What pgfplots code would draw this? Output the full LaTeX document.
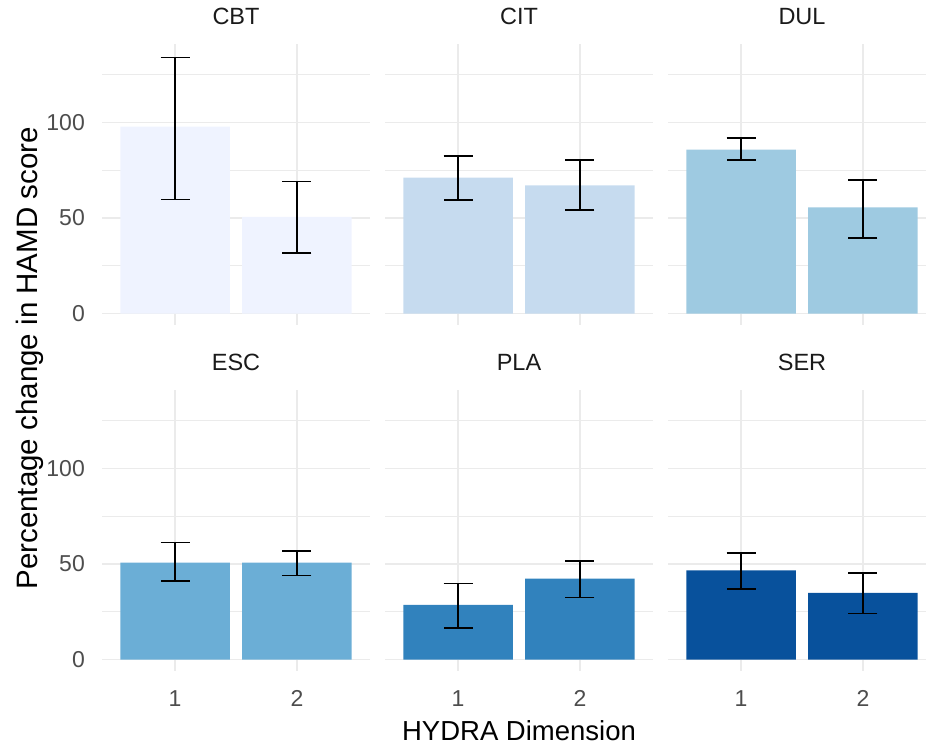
\documentclass[border=0pt]{standalone}
\usepackage{fontspec}
\setmainfont{Liberation Sans}
\usepackage{pgfplots}
\usepackage{pgfplotstable}
\pgfplotsset{compat=1.18}

\definecolor{cbt}{HTML}{EFF3FF}
\definecolor{cit}{HTML}{C6DBEF}
\definecolor{dul}{HTML}{9ECAE1}
\definecolor{esc}{HTML}{6BAED6}
\definecolor{pla}{HTML}{3182BD}
\definecolor{ser}{HTML}{08519C}
\definecolor{gridc}{HTML}{EBEBEB}
\definecolor{tickc}{HTML}{4D4D4D}
\definecolor{stripc}{HTML}{1A1A1A}

% x = HYDRA dimension, y = mean, ep/em = error plus/minus
\pgfplotstableread{
x y ep em
1 97.8 36.1 38.1
2 50.5 18.6 18.9
}\tcbt
\pgfplotstableread{
x y ep em
1 71.1 11.3 11.7
2 67.0 13.2 12.8
}\tcit
\pgfplotstableread{
x y ep em
1 85.7 6.1 5.5
2 55.5 14.3 15.9
}\tdul
\pgfplotstableread{
x y ep em
1 50.7 10.5 9.8
2 50.7 6.0 6.7
}\tesc
\pgfplotstableread{
x y ep em
1 28.6 11.2 11.9
2 42.3 9.3 9.8
}\tpla
\pgfplotstableread{
x y ep em
1 46.7 9.1 10.0
2 34.9 10.2 10.8
}\tser

\pgfplotsset{
  panel/.style={
    scale only axis, width=268pt, height=281pt, anchor=south west,
    xmin=0.4, xmax=2.6, ymin=-6, ymax=141,
    xtick={1,2}, ytick={0,50,100}, minor ytick={25,75,125},
    xticklabels={}, yticklabels={},
    grid=both,
    major grid style={line width=1.6pt, color=gridc},
    minor grid style={line width=1pt, color=gridc},
    axis line style={draw=none}, tick style={draw=none},
    xticklabel style={anchor=north, inner sep=0pt, yshift=-19pt,
      font=\fontsize{23}{27}\selectfont, text=tickc},
    yticklabel style={anchor=east, inner sep=0pt, xshift=-17pt,
      font=\fontsize{23}{27}\selectfont, text=tickc},
    title style={at={(0.5,1)}, anchor=center, inner sep=0pt, yshift=21.5pt,
      font=\fontsize{23.5}{27}\selectfont, text=stripc},
  },
  barplot/.style={
    ybar, bar width=0.9, fill=#1, draw=none,
    error bars/.cd, y dir=both, y explicit,
    error bar style={line width=1.8pt, color=black},
    error mark options={rotate=90, line width=1.8pt, mark size=14.5pt, color=black},
  },
}

\begin{document}
\begin{tikzpicture}
\useasboundingbox (0,0) rectangle (926pt,747pt);
\clip (0,0) rectangle (926pt,747pt);

% top row
\begin{axis}[panel, at={(102pt,422pt)}, title={CBT}, yticklabels={0,50,100}]
\addplot[barplot=cbt] table[x=x, y=y, y error plus=ep, y error minus=em] {\tcbt};
\end{axis}
\begin{axis}[panel, at={(385pt,422pt)}, title={CIT}]
\addplot[barplot=cit] table[x=x, y=y, y error plus=ep, y error minus=em] {\tcit};
\end{axis}
\begin{axis}[panel, at={(668pt,422pt)}, title={DUL}]
\addplot[barplot=dul] table[x=x, y=y, y error plus=ep, y error minus=em] {\tdul};
\end{axis}

% bottom row
\begin{axis}[panel, at={(102pt,76pt)}, title={ESC}, yticklabels={0,50,100}, xticklabels={1,2}]
\addplot[barplot=esc] table[x=x, y=y, y error plus=ep, y error minus=em] {\tesc};
\end{axis}
\begin{axis}[panel, at={(385pt,76pt)}, title={PLA}, xticklabels={1,2}]
\addplot[barplot=pla] table[x=x, y=y, y error plus=ep, y error minus=em] {\tpla};
\end{axis}
\begin{axis}[panel, at={(668pt,76pt)}, title={SER}, xticklabels={1,2}]
\addplot[barplot=ser] table[x=x, y=y, y error plus=ep, y error minus=em] {\tser};
\end{axis}

\node[anchor=center, inner sep=0pt, font=\fontsize{27.5}{32}\selectfont]
  at (519pt,16.4pt) {HYDRA Dimension};
\node[rotate=90, anchor=base, inner sep=0pt, font=\fontsize{29.5}{34}\selectfont]
  at (37.5pt,388.7pt) {Percentage change in HAMD score};
\end{tikzpicture}
\end{document}
